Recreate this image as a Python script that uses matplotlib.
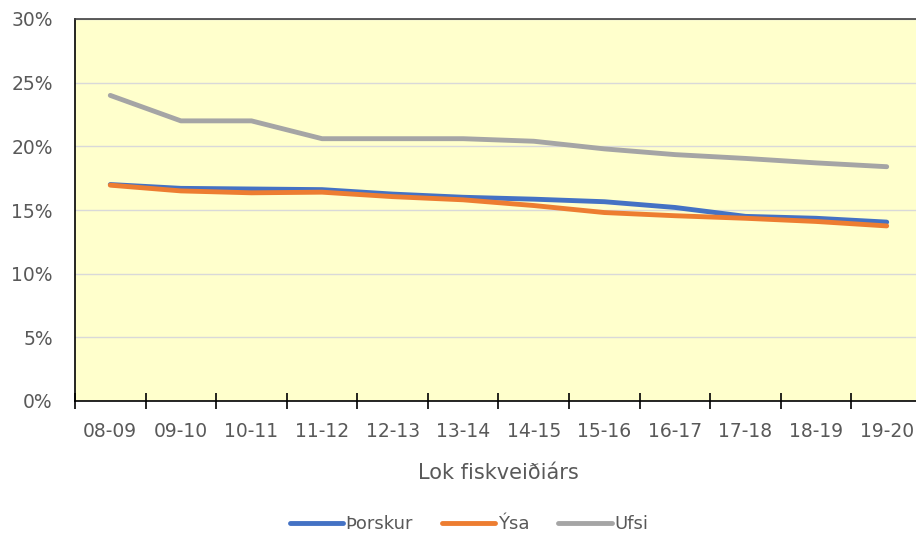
import numpy as np
import matplotlib
matplotlib.use('Agg')
import matplotlib.pyplot as plt
from matplotlib.ticker import PercentFormatter, FixedLocator

# hlutfall eftir fisktegund, lok fiskveiðiárs
years = ['08-09', '09-10', '10-11', '11-12', '12-13', '13-14',
         '14-15', '15-16', '16-17', '17-18', '18-19', '19-20']
thorskur = [17.0, 16.7, 16.65, 16.6, 16.25, 16.0, 15.85, 15.65, 15.2, 14.5, 14.35, 14.05]
ysa = [16.95, 16.5, 16.35, 16.4, 16.05, 15.8, 15.35, 14.8, 14.55, 14.35, 14.1, 13.75]
ufsi = [24.0, 22.0, 22.0, 20.6, 20.6, 20.6, 20.4, 19.8, 19.35, 19.05, 18.7, 18.4]

series = [('Þorskur', thorskur, '#4472C4'),
          ('Ýsa', ysa, '#ED7D31'),
          ('Ufsi', ufsi, '#A5A5A5')]

txt = '#595959'
fs = 13.5
plt.rcParams['font.family'] = ['DejaVu Sans']

fig = plt.figure(figsize=(9.16, 5.37), dpi=100)
ax = fig.add_axes([75/916, 136/537, 847/916, 382/537])
ax.set_facecolor('#FFFFCC')

x = np.arange(len(years))
for name, vals, col in series:
    ax.plot(x, vals, color=col, lw=3.5, label=name, solid_capstyle='round', zorder=3)

ax.set_xlim(-0.5, len(years) - 0.5)
ax.set_ylim(0, 30)
ax.yaxis.set_major_formatter(PercentFormatter(decimals=0))
ax.set_yticks(np.arange(0, 31, 5))
ax.grid(axis='y', color='#D9D9D9', lw=1.0, zorder=0)
ax.set_axisbelow(True)

ax.set_xticks(x)
ax.set_xticklabels(years)
ax.xaxis.set_minor_locator(FixedLocator(np.arange(-0.5, len(years), 1.0)))
ax.tick_params(axis='x', which='major', length=0, pad=15, labelsize=fs, labelcolor=txt)
ax.tick_params(axis='x', which='minor', direction='inout', length=12, width=1.2, color='black')
ax.tick_params(axis='y', length=0, pad=16, labelsize=fs, labelcolor=txt)

for s in ['left', 'bottom', 'top']:
    ax.spines[s].set_color('black')
    ax.spines[s].set_linewidth(1.2)
ax.spines['top'].set_color('#404040')
ax.spines['right'].set_visible(False)

fig.text(498/916, 1 - 473/537, 'Lok fiskveiðiárs', ha='center', va='center',
         fontsize=15, color=txt)

leg = fig.legend(loc='center', bbox_to_anchor=(469/916, 1 - 524/537), ncol=3,
                 frameon=False, fontsize=13, handlelength=2.95, handletextpad=0.15,
                 columnspacing=1.6)
for t in leg.get_texts():
    t.set_color(txt)

fig.savefig('out.png', dpi=100)
